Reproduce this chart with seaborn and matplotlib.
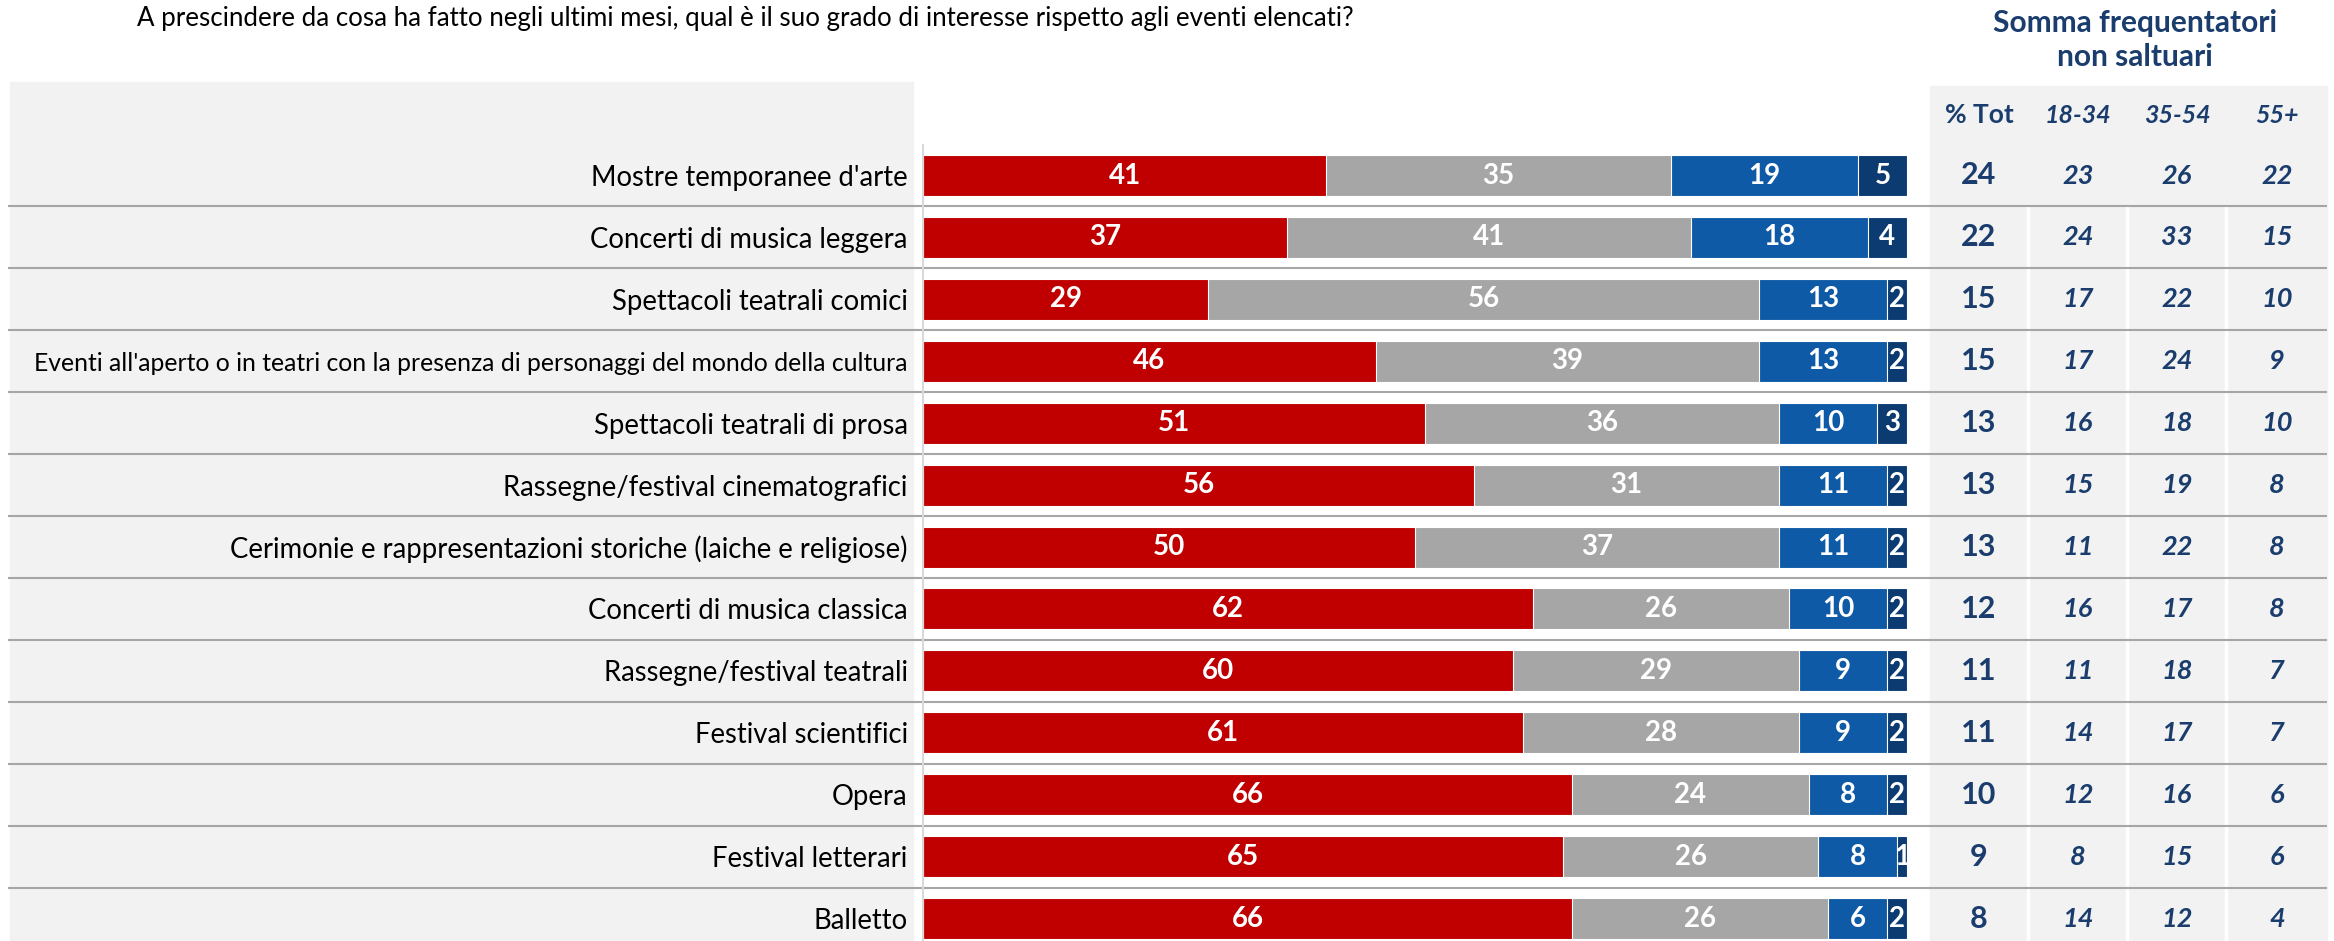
import numpy as np
import pandas as pd
import matplotlib
matplotlib.use("Agg")
import matplotlib.pyplot as plt
from matplotlib import transforms
from matplotlib.patches import Rectangle
import seaborn as sns

# ---------------- data ----------------
domanda = "A prescindere da cosa ha fatto negli ultimi mesi, qual è il suo grado di interesse rispetto agli eventi elencati?"
eventi = [
    "Mostre temporanee d'arte",
    "Concerti di musica leggera",
    "Spettacoli teatrali comici",
    "Eventi all'aperto o in teatri con la presenza di personaggi del mondo della cultura",
    "Spettacoli teatrali di prosa",
    "Rassegne/festival cinematografici",
    "Cerimonie e rappresentazioni storiche (laiche e religiose)",
    "Concerti di musica classica",
    "Rassegne/festival teatrali",
    "Festival scientifici",
    "Opera",
    "Festival letterari",
    "Balletto",
]
serie_rossa = [41, 37, 29, 46, 51, 56, 50, 62, 60, 61, 66, 65, 66]
serie_grigia = [35, 41, 56, 39, 36, 31, 37, 26, 29, 28, 24, 26, 26]
serie_blu = [19, 18, 13, 13, 10, 11, 11, 10, 9, 9, 8, 8, 6]
serie_navy = [5, 4, 2, 2, 3, 2, 2, 2, 2, 2, 2, 1, 2]

titolo_tabella = ["Somma frequentatori", "non saltuari"]
colonne_tabella = ["% Tot", "18-34", "35-54", "55+"]
perc_tot = [24, 22, 15, 15, 13, 13, 13, 12, 11, 11, 10, 9, 8]
eta_18_34 = [23, 24, 17, 17, 16, 15, 11, 16, 11, 14, 12, 8, 14]
eta_35_54 = [26, 33, 22, 24, 18, 19, 22, 17, 18, 17, 16, 15, 12]
eta_55 = [22, 15, 10, 9, 10, 8, 8, 8, 7, 7, 6, 6, 4]

# ---------------- style ----------------
sns.set_theme(style="white")
plt.rcParams["font.family"] = ["Lato", "DejaVu Sans"]

RED, GREY, BLUE, NAVY = "#C00000", "#A6A6A6", "#0F5AA6", "#0B3B70"
TXT_BLUE = "#1A3D6D"
PANEL = "#F2F2F2"
SEP = "#A6A6A6"

W, H = 2334, 941
fig = plt.figure(figsize=(W / 100, H / 100), dpi=100)
fig.patch.set_facecolor("white")

bg = fig.add_axes([0, 0, 1, 1], zorder=0)
bg.set_xlim(0, W)
bg.set_ylim(H, 0)
bg.axis("off")

X0, X1 = 923, 1907
ax = fig.add_axes([X0 / W, 0, (X1 - X0) / W, 1], zorder=1)
ax.set_facecolor("none")

yc0, dy = 175.5, 61.92
y_top = -yc0 / dy
y_bot = (H - yc0) / dy

df = pd.DataFrame({
    "evento": eventi,
    "r": serie_rossa, "g": serie_grigia, "b": serie_blu, "n": serie_navy,
})
df["c1"] = df["r"]
df["c2"] = df["c1"] + df["g"]
df["c3"] = df["c2"] + df["b"]
df["c4"] = df["c3"] + df["n"]

for col, colr in [("c4", NAVY), ("c3", BLUE), ("c2", GREY), ("c1", RED)]:
    sns.barplot(data=df, x=col, y="evento", orient="h", color=colr,
                width=0.662, edgecolor="white", linewidth=0.8, ax=ax,
                saturation=1)

ax.set_xlim(0, 100)
ax.set_ylim(y_bot, y_top)
ax.set_xlabel("")
ax.set_ylabel("")
ax.xaxis.set_visible(False)
for s in ["top", "right", "bottom"]:
    ax.spines[s].set_visible(False)
ax.spines["left"].set_color("#D9D9D9")
ax.spines["left"].set_linewidth(1.5)
ax.spines["left"].set_bounds(-0.49, y_bot)
ax.tick_params(axis="y", length=0, pad=11, labelsize=19.8, labelcolor="#000000")

# shrink labels that do not fit in the left panel
renderer = fig.canvas.get_renderer()
max_w = 873
for t in ax.get_yticklabels():
    w = t.get_window_extent(renderer=renderer).width
    if w > max_w:
        t.set_fontsize(t.get_fontsize() * max_w / w)

# segment labels
for i in range(len(eventi)):
    left = 0
    for v in (serie_rossa[i], serie_grigia[i], serie_blu[i], serie_navy[i]):
        ax.text(left + v / 2, i, str(v), ha="center", va="center",
                color="white", fontweight="bold", fontsize=20)
        left += v

# background panels
bg.add_patch(Rectangle((10, 82), 903, H - 82, color=PANEL, zorder=0))
bg.add_patch(Rectangle((1930, 86), 397, H - 86, color=PANEL, zorder=0))

trans = transforms.blended_transform_factory(bg.transData, ax.transData)

# row separators
for i in range(len(eventi) - 1):
    bg.plot([8, 2327], [i + 0.5, i + 0.5], transform=trans, color=SEP,
            lw=1.5, zorder=2, solid_capstyle="butt")

# table column separators
for x in (2028, 2127, 2226):
    bg.plot([x, x], [0.5, y_bot], transform=trans, color="white", lw=2.5, zorder=1)

# question
bg.text(137, 18, domanda, ha="left", va="center", fontsize=18.6, color="#000000")

# table header
bg.text(2135, 23, titolo_tabella[0], ha="center", va="center", fontsize=21.5,
        fontweight="bold", color=TXT_BLUE)
bg.text(2135, 57, titolo_tabella[1], ha="center", va="center", fontsize=21.5,
        fontweight="bold", color=TXT_BLUE)

col_x = [1979, 2078, 2177, 2277]
for j, (cx, lab) in enumerate(zip(col_x, colonne_tabella)):
    bg.text(cx, 115, lab, ha="center", va="center",
            fontsize=19 if j == 0 else 18,
            fontweight="bold", fontstyle="normal" if j == 0 else "italic",
            color=TXT_BLUE)

for i in range(len(eventi)):
    bg.text(col_x[0], i, str(perc_tot[i]), transform=trans, ha="center",
            va="center", fontsize=22, fontweight="bold", color=TXT_BLUE)
    for cx, arr in zip(col_x[1:], (eta_18_34, eta_35_54, eta_55)):
        bg.text(cx, i, str(arr[i]), transform=trans, ha="center", va="center",
                fontsize=19.5, fontweight="bold", fontstyle="italic", color=TXT_BLUE)

fig.savefig("out.png", dpi=100, facecolor="white")
